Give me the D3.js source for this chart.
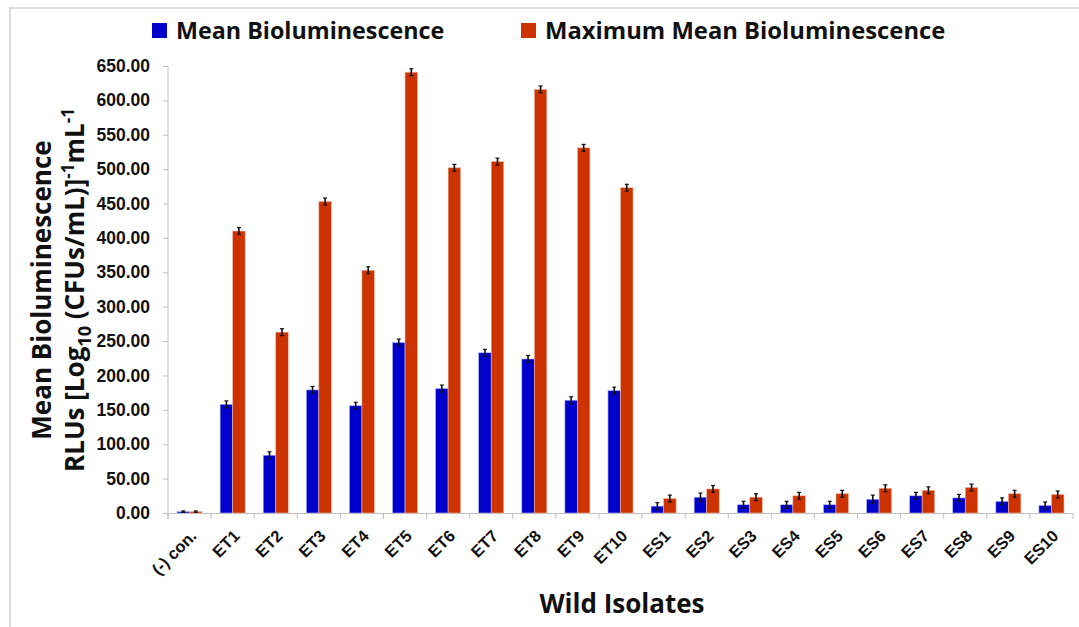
<!doctype html>
<html>
<head>
<style>
  body { margin: 0; background: #fff; font-family: 'Open Sans', sans-serif; }
  .tick text { font-weight: bold; fill: #111; }
</style>
<script src="https://d3js.org/d3.v7.min.js"></script>
</head>
<body>
<svg id="chart" width="1079" height="627"></svg>
<script>
// values
const isolates = ["(-) con.", "ET1", "ET2", "ET3", "ET4", "ET5", "ET6", "ET7", "ET8", "ET9", "ET10",
  "ES1", "ES2", "ES3", "ES4", "ES5", "ES6", "ES7", "ES8", "ES9", "ES10"];
const meanBio = [2, 158, 84, 179, 156, 248, 181, 233, 224, 164, 178,
  10, 23, 12, 12, 12, 20, 25, 22, 17, 11];
const maxMeanBio = [2, 410, 263, 453, 353, 641, 502, 511, 616, 531, 473,
  21, 35, 23, 25, 28, 36, 33, 37, 28, 27];
const meanErr = [1, 5, 5, 5, 5, 5, 5, 5, 5, 5, 5,
  5, 6, 5, 5, 5, 6, 5, 5, 5, 5];
const maxErr = [1, 5, 5, 5, 5, 5, 5, 5, 5, 5, 5,
  5, 5, 5, 5, 5, 5, 5, 5, 5, 5];
const yTicks = d3.range(0, 651, 50);
const seriesNames = ["Mean Bioluminescence", "Maximum Mean Bioluminescence"];
const colors = ["#0000cc", "#cc3300"];

const svg = d3.select("#chart");
const mLeft = 168, mRight = 1073, mTop = 66, mBottom = 513;

// frame: only top and left edges show in the picture
svg.append("line").attr("x1", 9).attr("x2", 1079).attr("y1", 8).attr("y2", 8)
  .attr("stroke", "#dadada").attr("stroke-width", 2);
svg.append("line").attr("x1", 10).attr("x2", 10).attr("y1", 7).attr("y2", 627)
  .attr("stroke", "#dadada").attr("stroke-width", 2);

const x = d3.scaleBand().domain(isolates).range([mLeft, mRight]);
const y = d3.scaleLinear().domain([0, 650]).range([mBottom, mTop]);
const sub = d3.scaleBand().domain([0, 1]).range([0, x.bandwidth()]).paddingInner(0).paddingOuter(0.72);

const rows = isolates.map((c, i) => ({ c, vals: [meanBio[i], maxMeanBio[i]], errs: [meanErr[i], maxErr[i]] }));

// y axis
const yAxis = svg.append("g").attr("transform", `translate(${mLeft},0)`)
  .call(d3.axisLeft(y).tickValues(yTicks).tickFormat(d3.format(".2f")).tickSize(5).tickPadding(13));
yAxis.selectAll("text").style("font-size", "17.5px");
yAxis.select(".domain").attr("stroke", "#bfbfbf").attr("d", `M0,${mTop}V${mBottom + 6}`);
yAxis.selectAll(".tick line").attr("stroke", "#bfbfbf");

// x axis
const xAxis = svg.append("g").attr("transform", `translate(0,${mBottom})`)
  .call(d3.axisBottom(x).tickSize(0).tickPadding(0));
xAxis.select(".domain").attr("stroke", "#bfbfbf");
xAxis.selectAll("text")
  .style("font-size", "16.5px")
  .style("text-anchor", "end")
  .attr("dy", 0)
  .attr("transform", "translate(8,24) rotate(-45)");
// category separators
svg.append("g").selectAll("line").data(d3.range(isolates.length + 1)).join("line")
  .attr("x1", i => mLeft + i * x.step()).attr("x2", i => mLeft + i * x.step())
  .attr("y1", mBottom).attr("y2", mBottom + 6).attr("stroke", "#bfbfbf");

// bars
const groups = svg.append("g").selectAll("g").data(rows).join("g")
  .attr("transform", d => `translate(${x(d.c)},0)`);
groups.selectAll("rect").data(d => d.vals.map((v, k) => ({ v, k }))).join("rect")
  .attr("x", d => sub(d.k)).attr("width", sub.bandwidth())
  .attr("y", d => y(d.v)).attr("height", d => y(0) - y(d.v))
  .attr("fill", d => colors[d.k])
  .attr("stroke", d => d.k ? "#f2b8a8" : "#b8b8f2").attr("stroke-width", 0.6);

// error bars
const eb = groups.selectAll("g.err").data(d => d.vals.map((v, k) => ({ v, e: d.errs[k], k }))).join("g")
  .attr("class", "err")
  .attr("transform", d => `translate(${sub(d.k) + sub.bandwidth() / 2},0)`);
eb.append("line").attr("y1", d => y(d.v - d.e)).attr("y2", d => y(d.v + d.e))
  .attr("stroke", "#111").attr("stroke-width", 1.6);
eb.append("line").attr("x1", -2).attr("x2", 2).attr("y1", d => y(d.v + d.e)).attr("y2", d => y(d.v + d.e))
  .attr("stroke", "#111").attr("stroke-width", 1.2);
eb.append("line").attr("x1", -2).attr("x2", 2).attr("y1", d => y(d.v - d.e)).attr("y2", d => y(d.v - d.e))
  .attr("stroke", "#111").attr("stroke-width", 1.2);

// legend
const legX = [152, 521];
seriesNames.forEach((s, k) => {
  svg.append("rect").attr("x", legX[k]).attr("y", 23).attr("width", 15).attr("height", 15).attr("fill", colors[k]);
  svg.append("text").attr("x", legX[k] + 24).attr("y", 39).text(s)
    .style("font-size", k ? "23.8px" : "23.3px").style("font-weight", "bold").attr("fill", "#111");
});

// axis titles
svg.append("text").attr("x", 622).attr("y", 613).attr("text-anchor", "middle")
  .style("font-size", "26px").style("font-weight", "bold").attr("fill", "#111").text("Wild Isolates");

const yt = svg.append("text").attr("transform", "translate(51,290) rotate(-90)")
  .attr("text-anchor", "middle").style("font-size", "26px").style("font-weight", "bold").attr("fill", "#111");
yt.append("tspan").attr("x", 0).attr("y", 0).text("Mean Bioluminescence");
const l2 = yt.append("tspan").attr("x", 0).attr("y", 33);
l2.append("tspan").text("RLUs [Log");
l2.append("tspan").attr("font-size", "18px").attr("dy", 7).text("10");
l2.append("tspan").attr("dy", -7).text(" (CFUs/mL)]");
l2.append("tspan").attr("font-size", "17px").attr("dy", -10).text("-1");
l2.append("tspan").attr("dy", 10).text("mL");
l2.append("tspan").attr("font-size", "17px").attr("dy", -10).text("-1");
</script>
</body>
</html>
